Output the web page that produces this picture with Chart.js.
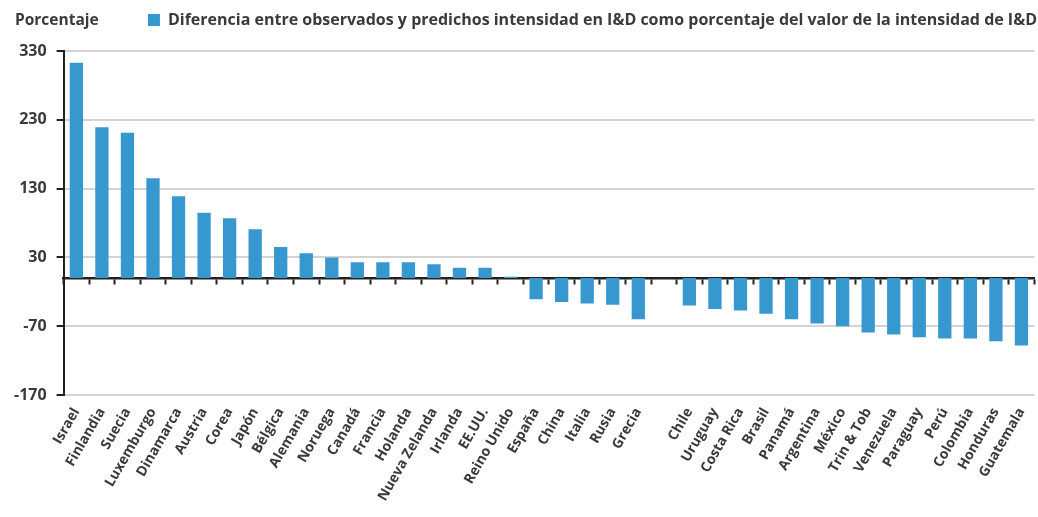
<!DOCTYPE html>
<html>
<head>
<meta charset="utf-8">
<script src="https://cdn.jsdelivr.net/npm/chart.js@4.4.1/dist/chart.umd.min.js"></script>
<style>
  html, body { margin: 0; padding: 0; background: #fff; }
  #wrap { position: relative; width: 1038px; height: 517px; }
  #ylab { position: absolute; left: 15px; top: 8px; font: bold 15.5px "Open Sans", sans-serif; color: #3a3a3a; }
</style>
</head>
<body>
<div id="wrap">
  <div id="ylab">Porcentaje</div>
  <canvas id="chart" width="1038" height="517"></canvas>
</div>
<script>
// ─── DATA ───
const countries = ['Israel', 'Finlandia', 'Suecia', 'Luxemburgo', 'Dinamarca', 'Austria', 'Corea', 'Japón',
  'Bélgica', 'Alemania', 'Noruega', 'Canadá', 'Francia', 'Holanda', 'Nueva Zelanda', 'Irlanda', 'EE.UU.',
  'Reino Unido', 'España', 'China', 'Italia', 'Rusia', 'Grecia', '',
  'Chile', 'Uruguay', 'Costa Rica', 'Brasil', 'Panamá', 'Argentina', 'México', 'Trin & Tob', 'Venezuela',
  'Paraguay', 'Perú', 'Colombia', 'Honduras', 'Guatemala'];
const diff = [313, 219, 211, 145, 119, 95, 87, 71,
  45, 36, 30, 23, 23, 23, 20, 15, 15,
  2, -31, -35, -37, -39, -60, null,
  -40, -45, -47, -52, -60, -66, -70, -79, -82,
  -86, -88, -88, -92, -98];
const yTicks = [-170, -70, 30, 130, 230, 330];
const seriesLabel = 'Diferencia entre observados y predichos intensidad en I&D como porcentaje del valor de la intensidad de I&D';

const FONT = '"Open Sans", sans-serif';
const INK = '#3a3a3a';

// extra room under the legend
const legendGap = {
  id: 'legendGap',
  beforeInit(chart) {
    const fit = chart.legend.fit;
    chart.legend.fit = function () { fit.bind(chart.legend)(); this.height += 13; };
  }
};

new Chart(document.getElementById('chart'), {
  type: 'bar',
  data: {
    labels: countries,
    datasets: [{
      label: seriesLabel,
      data: diff,
      backgroundColor: '#3797cf',
      borderWidth: 0,
      categoryPercentage: 1,
      barPercentage: 0.52,
      xAxisID: 'x'
    }]
  },
  plugins: [legendGap],
  options: {
    responsive: false,
    animation: false,
    layout: { padding: { left: 4, right: 1, top: 12, bottom: 0 } },
    plugins: {
      legend: {
        align: 'end',
        labels: {
          color: INK,
          font: { family: FONT, size: 16, weight: 'bold' },
          boxWidth: 12, boxHeight: 12, padding: 0
        }
      },
      tooltip: { enabled: false }
    },
    scales: {
      x: {
        type: 'category',
        position: { y: 0 },
        offset: true,
        grid: { display: true, drawOnChartArea: false, offset: true, tickLength: 5, tickColor: '#222', tickWidth: 2 },
        border: { display: true, color: '#222', width: 2.5 },
        ticks: { display: false }
      },
      x2: {
        type: 'category',
        position: 'bottom',
        offset: true,
        grid: { display: false },
        border: { display: false },
        afterFit: s => { s.height = 122; },
        ticks: {
          color: INK, autoSkip: false, maxRotation: 60, minRotation: 60, padding: 2,
          font: { family: FONT, size: 14, weight: 'bold' }
        }
      },
      y: {
        min: -170, max: 330,
        afterBuildTicks: s => { s.ticks = yTicks.map(v => ({ value: v })); },
        grid: { color: '#d3d3d3', lineWidth: 2, tickLength: 7, tickColor: '#222', tickWidth: 2 },
        border: { display: true, color: '#222', width: 2 },
        ticks: { color: INK, padding: 10, font: { family: FONT, size: 16, weight: 'bold' } }
      }
    }
  }
});
</script>
</body>
</html>
